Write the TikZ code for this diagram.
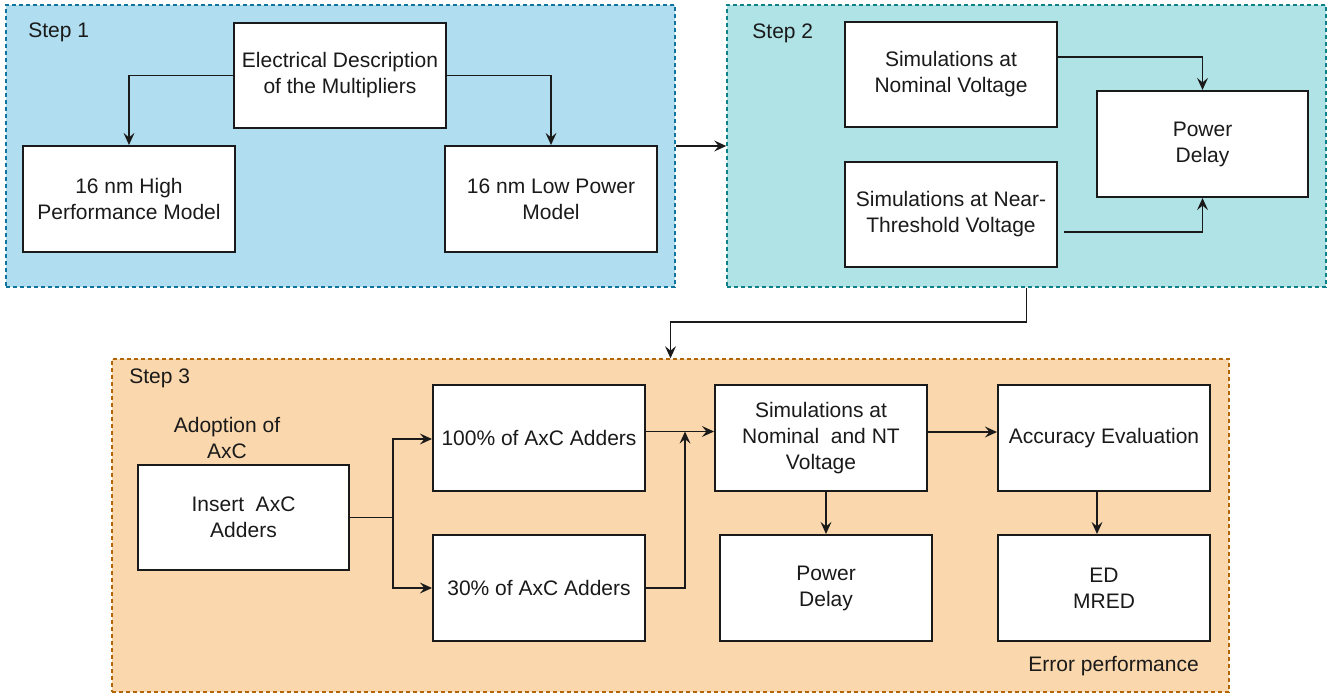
\documentclass[tikz,border=0pt]{standalone}
\usepackage{fontspec}
\setmainfont{Liberation Sans}
\usetikzlibrary{arrows.meta,calc}
\definecolor{bluefill}{HTML}{B1DDF0}
\definecolor{bluedraw}{HTML}{10739E}
\definecolor{tealfill}{HTML}{B0E3E6}
\definecolor{tealdraw}{HTML}{0E8088}
\definecolor{orangefill}{HTML}{FAD7AC}
\definecolor{orangedraw}{HTML}{B46504}
\definecolor{ink}{HTML}{1A1A1A}
\begin{document}
\begin{tikzpicture}[x=0.5pt,y=-0.5pt,
  font=\fontsize{10.5pt}{13pt}\selectfont,
  container/.style={draw=#1, dash pattern=on 2pt off 1.5pt, line width=0.7pt, inner sep=0},
  box/.style={draw=ink, fill=white, line width=1pt, minimum width=106pt, minimum height=53pt, inner sep=0, align=center, text=ink},
  lbl/.style={text=ink, inner sep=0, align=center},
  arr/.style={draw=ink, line width=0.9pt, -{Stealth[length=6pt,width=5.4pt,inset=2.2pt]}},
  plain/.style={draw=ink, line width=0.9pt}
]
\useasboundingbox (0,0) rectangle (1336,695);
\fill[white] (0,0) rectangle (1336,695);

% containers
\node[container=bluedraw, fill=bluefill, minimum width=334.5pt, minimum height=141pt] (s1) at (340.5,146) {};
\node[container=tealdraw, fill=tealfill, minimum width=299.5pt, minimum height=141pt] (s2) at (1026.5,146) {};
\node[container=orangedraw, fill=orangefill, minimum width=558.5pt, minimum height=166.5pt] (s3) at (670.5,525.5) {};

% labels
\node[lbl, anchor=west] (l1) at (28,32) {Step 1};
\node[lbl, anchor=west] (l2) at (752,33) {Step 2};
\node[lbl, anchor=west] (l3) at (129,378) {Step 3};
\node[lbl] (ladopt) at (227,438) {Adoption of\\AxC};
\node[lbl, anchor=west] (lerr) at (1028,666) {Error performance};

% step 1
\node[box, minimum height=52.5pt] (elec) at (340,75.5) {Electrical Description\\of the Multipliers};
\node[box] (hp) at (129,199) {16 nm High\\Performance Model};
\node[box] (lp) at (551,199) {16 nm Low Power\\Model};

% step 2
\node[box, minimum height=52.5pt] (nom) at (951,74.5) {Simulations at\\Nominal Voltage};
\node[box, minimum height=52.5pt] (near) at (951,214.5) {Simulations at Near-\\Threshold Voltage};
\node[box, minimum width=105.5pt] (pd1) at (1202.5,144) {Power\\Delay};

% step 3
\node[box, minimum width=105.5pt, minimum height=52.5pt] (ins) at (243.5,517.5) {Insert~~AxC\\Adders};
\node[box] (h100) at (539,438) {100\% of AxC Adders};
\node[box] (h30) at (539,588) {30\% of AxC Adders};
\node[box] (simnt) at (821,438) {Simulations at\\Nominal~~and NT\\Voltage};
\node[box] (pd2) at (826,588) {Power\\Delay};
\node[box] (acc) at (1104,438) {Accuracy Evaluation};
\node[box] (ed) at (1104,588) {ED\\MRED};

% helper coordinates
\coordinate (mid23) at (848.5,322);
\coordinate (br) at (393,517.5);
\coordinate (join) at (685,431.5);

% connectors step 1
\draw[arr] (elec.west) -| (hp.north);
\draw[arr] (elec.east) -| (lp.north);
\draw[arr] (s1.east) -- (s2.west);

% connectors step 2
\draw[arr] ($(nom.east)+(0,-17.5)$) -| (pd1.north);
\draw[arr] ($(near.east)+(6,17.5)$) -| (pd1.south);
\draw[arr] (s2.south) -- (s2.south |- mid23) -| (s3.north);

% connectors step 3
\draw[plain] (ins.east) -- (br);
\draw[arr] (br) |- ($(h100.west)+(0,1)$);
\draw[arr] (br) |- (h30.west);
\draw[arr] ($(h100.east)+(0,-6.5)$) -- ($(simnt.west)+(0,-6.5)$);
\draw[arr] (h30.east) -| (join);
\draw[arr] ($(simnt.east)+(0,-6)$) -- ($(acc.west)+(0,-6)$);
\draw[arr] (pd2.north |- simnt.south) -- (pd2.north);
\draw[arr] ($(acc.south)+(-7,0)$) -- ($(ed.north)+(-7,0)$);
\end{tikzpicture}
\end{document}
